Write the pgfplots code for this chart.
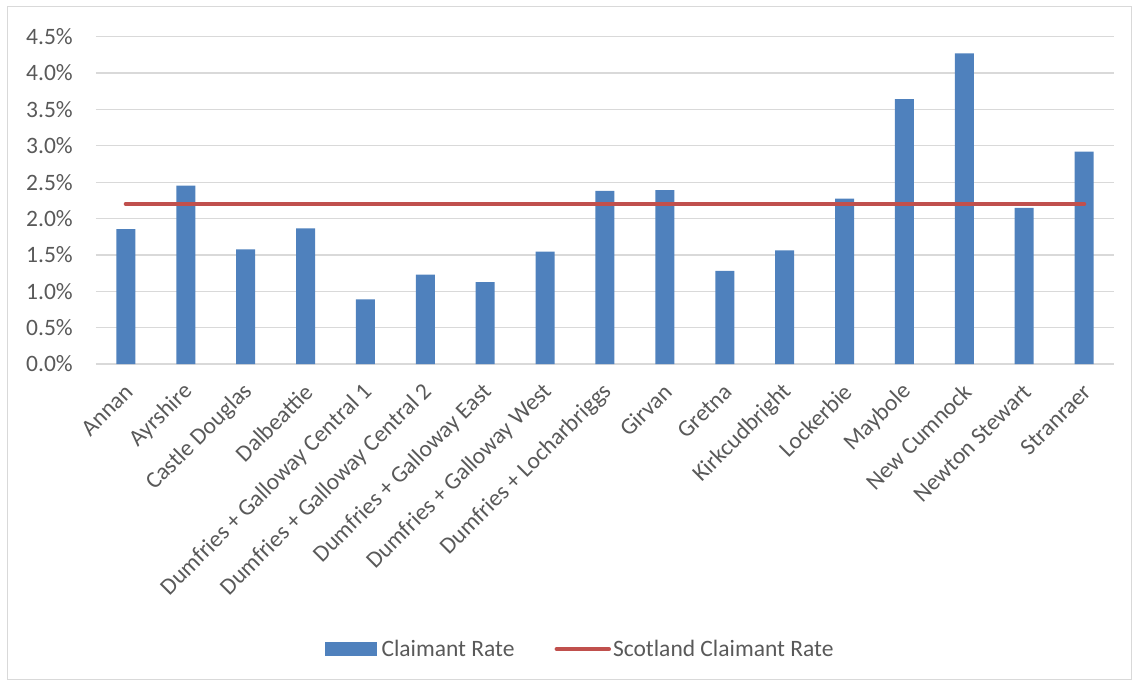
\documentclass[border=0pt]{standalone}
\usepackage{fontspec}
\setmainfont{Carlito}
\usepackage{pgfplots}
\pgfplotsset{compat=1.18}
\definecolor{barblue}{RGB}{79,129,189}
\definecolor{linered}{RGB}{192,80,77}
\definecolor{gridgray}{RGB}{217,217,217}
\definecolor{txtgray}{RGB}{89,89,89}
\definecolor{framegray}{RGB}{217,217,217}
\begin{document}
\begin{tikzpicture}
\path (-96pt,-316pt) rectangle (1036pt,364pt);
\draw[framegray, line width=1pt] (-88pt,-315pt) rectangle (1035pt,357pt);
\begin{axis}[
  scale only axis,
  width=1018pt, height=327.3pt,
  xmin=-0.5, xmax=16.5,
  ymin=0, ymax=4.5,
  ytick={0,0.5,...,4.5},
  yticklabel={\pgfmathprintnumber[fixed,fixed zerofill,precision=1]{\tick}\%},
  /pgf/number format/assume math mode=true,
  xtick={0,...,16},
  xticklabels={Annan,Ayrshire,Castle Douglas,Dalbeattie,Dumfries + Galloway Central 1,Dumfries + Galloway Central 2,Dumfries + Galloway East,Dumfries + Galloway West,Dumfries + Locharbriggs,Girvan,Gretna,Kirkcudbright,Lockerbie,Maybole,New Cumnock,Newton Stewart,Stranraer},
  major tick length=0pt,
  axis line style={draw=none},
  ymajorgrids,
  grid style={gridgray, line width=1.3pt},
  tick label style={font=\fontsize{23.5}{28}\selectfont, text=txtgray},
  yticklabel style={inner sep=0pt, xshift=-23pt},
  xticklabel style={inner sep=0pt, anchor=east, xshift=3pt, yshift=-24pt, rotate=45},
  legend style={at={(0.4755,-0.871)}, anchor=center, draw=none, fill=none,
    legend columns=2, font=\fontsize{23.5}{28}\selectfont, text=txtgray,
    /tikz/every even column/.append style={column sep=38pt}},
  clip=false,
]
\addplot[ybar, bar width=19pt, fill=barblue, draw=none,
  legend image code/.code={\fill[barblue] (0pt,-7pt) rectangle (52pt,7pt); \path (55pt,0pt);}]
  coordinates {
  (0,1.856) (1,2.452) (2,1.577) (3,1.865) (4,0.889) (5,1.228) (6,1.127)
  (7,1.545) (8,2.379) (9,2.392) (10,1.279) (11,1.563) (12,2.273)
  (13,3.643) (14,4.271) (15,2.145) (16,2.919)};
\addlegendentry{Claimant Rate}
\addplot[linered, line width=4.5pt, line cap=round, mark=none,
  legend image code/.code={\draw[linered, line width=4.5pt, line cap=round] (0pt,0pt) -- (52pt,0pt);}]
  coordinates {
  (0,2.2) (1,2.2) (2,2.2) (3,2.2) (4,2.2) (5,2.2) (6,2.2) (7,2.2) (8,2.2)
  (9,2.2) (10,2.2) (11,2.2) (12,2.2) (13,2.2) (14,2.2) (15,2.2) (16,2.2)};
\addlegendentry{Scotland Claimant Rate}
\end{axis}
\end{tikzpicture}
\end{document}
